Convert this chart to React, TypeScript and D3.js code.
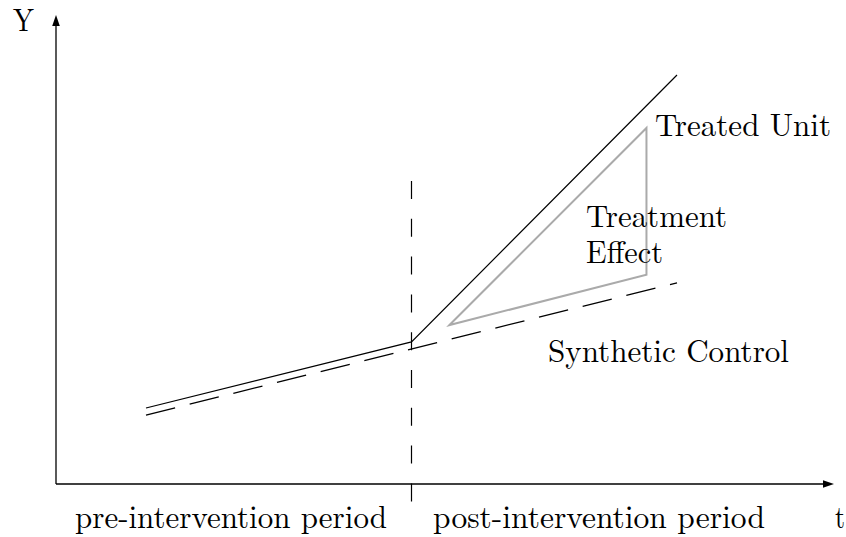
import React from "react";
import * as d3 from "d3";

const W = 846;
const H = 537;

// time values (intervention at t = 10)
const timePoints = [0, 10, 20];
const treatedValues = [16.2, 30.3, 87.2];
const syntheticTimes = [0, 20];
const syntheticValues = [14.7, 42.9];
const effectTimes = [11.43, 18.85, 18.85];
const effectValues = [33.9, 75.9, 44.6];
const interventionTime = 10;
const periodLabels = ["pre-intervention period", "post-intervention period"];

const x = d3.scaleLinear().domain([0, 20]).range([146, 677]);
const y = d3.scaleLinear().domain([0, 100]).range([484, 15]);

const line = d3
  .line<[number, number]>()
  .x((d) => x(d[0]))
  .y((d) => y(d[1]));

const font = `"Latin Modern Roman", "Liberation Serif", serif`;

export default function App() {
  const treated = timePoints.map((t, i) => [t, treatedValues[i]] as [number, number]);
  const synth = syntheticTimes.map((t, i) => [t, syntheticValues[i]] as [number, number]);
  const effect = effectTimes.map((t, i) => [t, effectValues[i]] as [number, number]);
  const x0 = 56;
  const y0 = y(0);
  const xEnd = 834;
  const yEnd = y(100);
  const xi = x(interventionTime);
  const ts = { fontFamily: font, fontSize: "32px" } as React.CSSProperties;
  return (
    <svg
      width={W}
      height={H}
      style={{ position: "absolute", left: 0, top: 0, background: "#fff" }}
    >
      {/* axes */}
      <line x1={x0} y1={y0} x2={xEnd - 8} y2={y0} stroke="#000" strokeWidth={1.3} />
      <path d={`M${xEnd},${y0} L${xEnd - 11},${y0 - 3.8} L${xEnd - 11},${y0 + 3.8} Z`} fill="#000" />
      <line x1={x0} y1={y0} x2={x0} y2={yEnd + 8} stroke="#000" strokeWidth={1.3} />
      <path d={`M${x0},${yEnd} L${x0 - 3.8},${yEnd + 11} L${x0 + 3.8},${yEnd + 11} Z`} fill="#000" />

      {/* intervention line */}
      <line
        x1={xi}
        y1={181}
        x2={xi}
        y2={502}
        stroke="#000"
        strokeWidth={1.2}
        strokeDasharray="18 19.8"
      />

      {/* synthetic control */}
      <path d={line(synth) || ""} fill="none" stroke="#000" strokeWidth={1.3} strokeDasharray="30 15" />
      {/* treated unit */}
      <path d={line(treated) || ""} fill="none" stroke="#000" strokeWidth={1.2} />
      {/* treatment effect */}
      <path
        d={(line(effect) || "") + "Z"}
        fill="none"
        stroke="#aaaaaa"
        strokeWidth={2}
        strokeLinejoin="miter"
      />

      <g fill="#000">
        <text style={ts} x={13} y={31} textLength={21} lengthAdjust="spacingAndGlyphs">Y</text>
        <text style={ts} x={835} y={528} textLength={10} lengthAdjust="spacingAndGlyphs">t</text>
        <text style={ts} x={655} y={136} textLength={176} lengthAdjust="spacingAndGlyphs">Treated Unit</text>
        <text style={ts} x={586} y={227} textLength={141} lengthAdjust="spacingAndGlyphs">Treatment</text>
        <text style={ts} x={586} y={263} textLength={77} lengthAdjust="spacingAndGlyphs">Effect</text>
        <text style={ts} x={548} y={362} textLength={241} lengthAdjust="spacingAndGlyphs">Synthetic Control</text>
        <text style={ts} x={75} y={528} textLength={312} lengthAdjust="spacingAndGlyphs">{periodLabels[0]}</text>
        <text style={ts} x={433} y={528} textLength={332} lengthAdjust="spacingAndGlyphs">{periodLabels[1]}</text>
      </g>
    </svg>
  );
}
